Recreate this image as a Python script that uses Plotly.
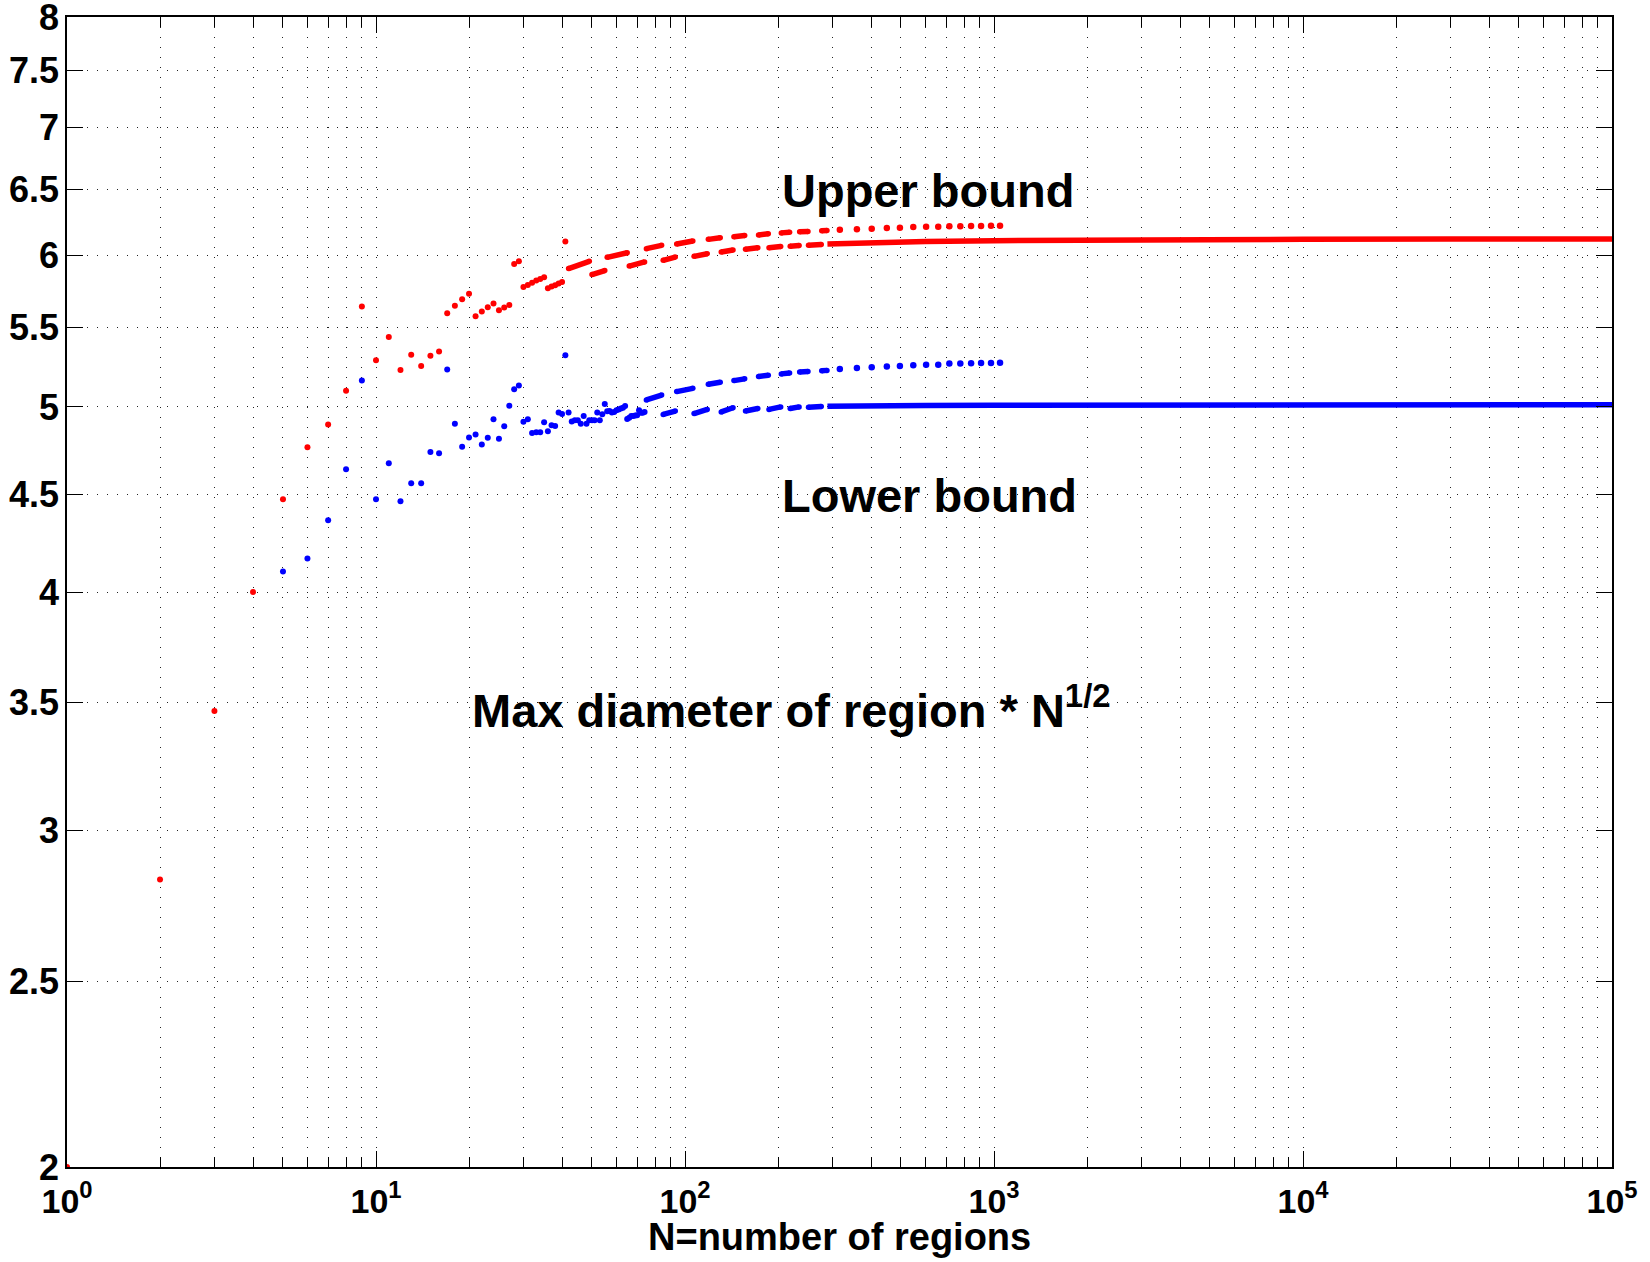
import plotly.graph_objects as go
import math

# ---------------- data ----------------
# individual points, small N
red_n = list(range(1, 42))
red_y = [2.0, 2.828, 3.465, 4.0, 4.473, 4.762, 4.895, 5.099, 5.644, 5.290,
         5.439, 5.227, 5.325, 5.253, 5.318, 5.345, 5.598, 5.649, 5.692, 5.731,
         5.578, 5.610, 5.638, 5.663, 5.617, 5.636, 5.653, 5.940, 5.959, 5.777,
         5.792, 5.808, 5.823, 5.834, 5.846, 5.769, 5.781, 5.790, 5.802, 5.813,
         6.103]

blue_n = list(range(5, 75))
blue_y = [4.100, 4.165, 4.362, 4.638, 5.162, 4.473, 4.671, 4.462, 4.561, 4.561,
          4.735, 4.728, 5.230, 4.900, 4.766, 4.819, 4.837, 4.778, 4.818, 4.926,
          4.812, 4.884, 5.007, 5.107, 5.130, 4.912, 4.926, 4.845, 4.850, 4.850,
          4.909, 4.855, 4.890, 4.886, 4.966, 4.958, 5.321, 4.966, 4.913, 4.920,
          4.920, 4.900, 4.945, 4.900, 4.920, 4.920, 4.920, 4.966, 4.920, 4.956,
          5.018, 4.974, 4.976, 4.966, 4.970, 4.980, 4.985, 4.990, 4.995, 5.005,
          4.928, 4.935, 4.945, 4.945, 4.948, 4.950, 4.980, 4.965, 4.965, 4.970]

# runs of consecutive N (drawn as dashes)
red_up_start = [42, 56, 75, 94, 119, 144, 173, 205, 235, 277]
red_up_end = [49, 65, 84, 106, 130, 156, 186, 218, 250, 288]
red_up_ys = [5.907, 5.988, 6.051, 6.085, 6.119, 6.138, 6.152, 6.167, 6.176, 6.183]
red_up_ye = [5.959, 6.021, 6.075, 6.107, 6.131, 6.148, 6.160, 6.171, 6.178, 6.185]

red_lo_start = [50, 66, 85, 107, 131, 157, 187, 219, 251]
red_lo_end = [55, 74, 93, 118, 143, 172, 204, 234, 276]
red_lo_ys = [5.865, 5.925, 5.966, 5.995, 6.026, 6.046, 6.057, 6.068, 6.076]
red_lo_ye = [5.893, 5.955, 5.990, 6.014, 6.041, 6.057, 6.067, 6.074, 6.082]

blue_up_start = [75, 94, 119, 144, 173, 205, 235, 277]
blue_up_end = [84, 106, 130, 156, 186, 218, 250, 288]
blue_up_ys = [5.042, 5.093, 5.138, 5.161, 5.187, 5.203, 5.215, 5.223]
blue_up_ye = [5.072, 5.113, 5.151, 5.172, 5.195, 5.209, 5.218, 5.225]

blue_lo_start = [85, 107, 131, 157, 187, 219, 251]
blue_lo_end = [93, 118, 143, 172, 204, 234, 276]
blue_lo_ys = [4.955, 4.960, 4.970, 4.975, 4.985, 4.990, 4.998]
blue_lo_ye = [4.975, 4.985, 4.995, 4.990, 5.000, 5.000, 5.003]

# isolated upper-branch points
upper_dot_n = [317, 360, 402, 450, 496, 548, 603, 660, 717, 778, 843, 908, 978, 1046]
red_dot_y = [6.191, 6.195, 6.198, 6.203, 6.206, 6.210, 6.213, 6.213, 6.216, 6.216,
             6.218, 6.218, 6.221, 6.221]
blue_dot_y = [5.234, 5.240, 5.244, 5.250, 5.252, 5.257, 5.261, 5.261, 5.268, 5.268,
              5.270, 5.272, 5.272, 5.274]

# dense lower-branch tails
tail_n = [289, 400, 600, 1000, 2000, 5000, 10000, 30000, 100000]
red_tail_y = [6.085, 6.095, 6.103, 6.109, 6.114, 6.118, 6.120, 6.121, 6.122]
blue_tail_y = [5.004, 5.008, 5.009, 5.010, 5.011, 5.012, 5.012, 5.013, 5.013]

x_tick_vals = [1, 10, 100, 1000, 10000, 100000]
x_tick_text = ["10<sup>0</sup>", "10<sup>1</sup>", "10<sup>2</sup>",
               "10<sup>3</sup>", "10<sup>4</sup>", "10<sup>5</sup>"]
y_tick_vals = [2, 2.5, 3, 3.5, 4, 4.5, 5, 5.5, 6, 6.5, 7, 7.5, 8]
y_tick_text = ["2", "2.5", "3", "3.5", "4", "4.5", "5", "5.5", "6", "6.5", "7", "7.5", "8"]

RED = "#ff0000"
BLUE = "#0000ff"
FONT = "Liberation Sans, Arial, Helvetica, sans-serif"
LW = 5.5
MS = 6


def runs(starts, ends, ys, ye):
    xs, yv = [], []
    for a, b, c, d in zip(starts, ends, ys, ye):
        xs += [a, b, None]
        yv += [c, d, None]
    return xs, yv


fig = go.Figure()

# blue series
bx, by = runs(blue_lo_start, blue_lo_end, blue_lo_ys, blue_lo_ye)
fig.add_trace(go.Scatter(x=bx, y=by, mode="lines+markers",
                         line=dict(color=BLUE, width=LW),
                         marker=dict(color=BLUE, size=LW), showlegend=False))
bx, by = runs(blue_up_start, blue_up_end, blue_up_ys, blue_up_ye)
fig.add_trace(go.Scatter(x=bx, y=by, mode="lines+markers",
                         line=dict(color=BLUE, width=LW),
                         marker=dict(color=BLUE, size=LW), showlegend=False))
fig.add_trace(go.Scatter(x=tail_n, y=blue_tail_y, mode="lines",
                         line=dict(color=BLUE, width=LW), showlegend=False))
fig.add_trace(go.Scatter(x=upper_dot_n, y=blue_dot_y, mode="markers",
                         marker=dict(color=BLUE, size=6.5), showlegend=False))
fig.add_trace(go.Scatter(x=blue_n, y=blue_y, mode="markers",
                         marker=dict(color=BLUE, size=MS), showlegend=False))

# red series
rx, ry = runs(red_lo_start, red_lo_end, red_lo_ys, red_lo_ye)
fig.add_trace(go.Scatter(x=rx, y=ry, mode="lines+markers",
                         line=dict(color=RED, width=LW),
                         marker=dict(color=RED, size=LW), showlegend=False))
rx, ry = runs(red_up_start, red_up_end, red_up_ys, red_up_ye)
fig.add_trace(go.Scatter(x=rx, y=ry, mode="lines+markers",
                         line=dict(color=RED, width=LW),
                         marker=dict(color=RED, size=LW), showlegend=False))
fig.add_trace(go.Scatter(x=tail_n, y=red_tail_y, mode="lines",
                         line=dict(color=RED, width=LW), showlegend=False))
fig.add_trace(go.Scatter(x=upper_dot_n, y=red_dot_y, mode="markers",
                         marker=dict(color=RED, size=6.5), showlegend=False))
fig.add_trace(go.Scatter(x=red_n, y=red_y, mode="markers",
                         marker=dict(color=RED, size=MS), showlegend=False))

minor_x = [m * 10 ** k for k in range(0, 5) for m in range(2, 10)]
GRID = "1px,9px"
EPS = 1e-5

fig.update_xaxes(
    type="log", range=[0 - EPS, 5 + EPS],
    tickmode="array", tickvals=x_tick_vals, ticktext=x_tick_text,
    ticks="inside", ticklen=16, tickwidth=1, tickcolor="black",
    showline=True, linecolor="black", linewidth=1.5, mirror="allticks",
    showgrid=True, gridcolor="#222222", gridwidth=1, griddash=GRID,
    minor=dict(tickmode="array", tickvals=minor_x, ticks="inside", ticklen=10,
               tickcolor="black", tickwidth=1, showgrid=True,
               gridcolor="#222222", gridwidth=1, griddash=GRID),
    tickfont=dict(family=FONT, size=34, color="black", weight="bold"),
    ticklabelstandoff=3, zeroline=False, automargin=False,
    ticklabeloverflow="allow",
)
fig.update_yaxes(
    type="log", range=[math.log10(2) - EPS, math.log10(8) + EPS],
    tickmode="array", tickvals=y_tick_vals, ticktext=y_tick_text,
    ticks="inside", ticklen=16, tickwidth=1, tickcolor="black",
    showline=True, linecolor="black", linewidth=1.5, mirror="allticks",
    showgrid=True, gridcolor="#222222", gridwidth=1, griddash=GRID,
    tickfont=dict(family=FONT, size=36, color="black", weight="bold"),
    ticklabelstandoff=-1, zeroline=False, automargin=False,
    ticklabeloverflow="allow",
)

ann_font = dict(family=FONT, size=47, color="black", weight="bold")
fig.update_layout(
    width=1650, height=1262,
    margin=dict(l=67, r=38, t=17, b=95),
    paper_bgcolor="white", plot_bgcolor="white",
    annotations=[
        dict(text="Upper bound", xref="paper", yref="paper", x=0.4615, y=0.8488,
             xanchor="left", yanchor="middle", showarrow=False, font=ann_font),
        dict(text="Lower bound", xref="paper", yref="paper", x=0.4615, y=0.5835,
             xanchor="left", yanchor="middle", showarrow=False, font=ann_font),
        dict(text="Max diameter of region * N<sup>1/2</sup>", xref="paper", yref="paper",
             x=0.2611, y=0.4001, xanchor="left", yanchor="middle", showarrow=False,
             font=ann_font),
        dict(text="N=number of regions", xref="paper", yref="paper", x=0.5, y=-0.0605,
             xanchor="center", yanchor="middle", showarrow=False,
             font=dict(family=FONT, size=38, color="black", weight="bold")),
    ],
)

# remove the default 8px page margin so the figure sits at the window origin
fig.write_html(
    "out.html",
    config={"displayModeBar": False},
    post_script="document.body.style.margin='0';document.body.style.overflow='hidden';",
)
